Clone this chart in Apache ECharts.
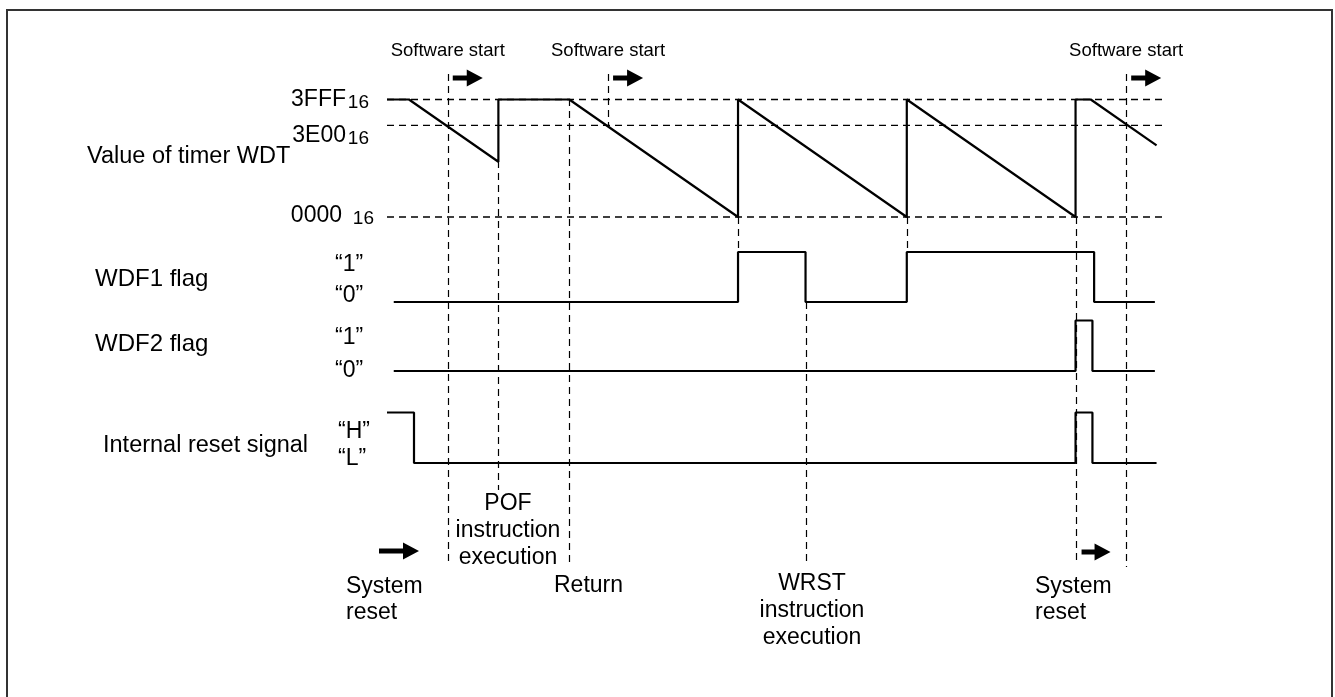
<!DOCTYPE html>
<html><head><meta charset="utf-8">
<script src="https://cdn.jsdelivr.net/npm/echarts@6/dist/echarts.min.js"></script>
<style>html,body{margin:0;padding:0;background:#fff}#c{width:1335px;height:697px}</style>
</head><body><div id="c"></div>
<script>
// ================= DATA =================
// time in arbitrary units (1 unit = 1 schematic count of the WDT drawing)
const timeRange = [-4, 457];
// schematic timer levels of the drawing (3FFF16 = 100 ... 000016 = 0)
const timerTickValues = [100, 78, 0];
const timerTickLabels = ['3FFF', '3E00', '0000'];
const timerTickSubs = ['16', '16', '16'];
const timerWave = [[-4,100],[9,100],[62,47],[62,100],[104,100],[204,0],[204,100],[304,0],[304,100],[404,0],[404,100],[413,100],[452,61]];
const wdf1Wave = [[0,0],[204,0],[204,1],[244,1],[244,0],[304,0],[304,1],[415,1],[415,0],[451,0]];
const wdf2Wave = [[0,0],[404,0],[404,1],[414,1],[414,0],[451,0]];
const resetWave = [[-4,1],[12,1],[12,0],[404,0],[404,1],[414,1],[414,0],[452,0]];
const signalNames = ['Value of timer WDT', 'WDF1 flag', 'WDF2 flag', 'Internal reset signal'];
const flagLevelLabels = ['“1”', '“0”'];
const resetLevelLabels = ['“H”', '“L”'];
const softwareStartTimes = [32, 127, 434];
const softwareStartLabel = 'Software start';
const guideTimes = [32, 62, 104, 127, 204, 244, 304, 404, 434];
const eventLabels = ['System\nreset', 'POF\ninstruction\nexecution', 'Return', 'WRST\ninstruction\nexecution', 'System\nreset'];
const systemResetTimes = [12, 404];

// ================= LAYOUT / STYLE =================
const FONT = "'Liberation Sans', Arial, sans-serif";
const X0 = 387, XW = 778;
const lanes = [
  {top: 99.5, height: 117.5, min: 0, max: 100},
  {top: 252, height: 50, min: 0, max: 1},
  {top: 320.5, height: 50.5, min: 0, max: 1},
  {top: 412.5, height: 50.5, min: 0, max: 1}
];
const guideSpans = [[74,563],[161,490],[99,567],[74,125],[217,252],[302,562],[217,252],[217,562],[74,567]];
const dash = [7, 5];

const chart = echarts.init(document.getElementById('c'), null, {renderer: 'canvas'});

const grids = lanes.map(l => ({left: X0, width: XW, top: l.top, height: l.height}));
const xAxes = lanes.map((l, i) => ({type: 'value', gridIndex: i, min: timeRange[0], max: timeRange[1], show: false}));
const yAxes = lanes.map((l, i) => ({type: 'value', gridIndex: i, min: l.min, max: l.max, show: false}));

const series = [];
timerTickValues.forEach(v => series.push({
  type: 'line', xAxisIndex: 0, yAxisIndex: 0, symbol: 'none', silent: true, clip: false,
  data: [[timeRange[0], v], [timeRange[1] - 1, v]],
  lineStyle: {color: '#000', width: 1.3, type: dash}
}));
[timerWave, wdf1Wave, wdf2Wave, resetWave].forEach((w, i) => series.push({
  type: 'line', xAxisIndex: i, yAxisIndex: i, symbol: 'none', silent: true, clip: false,
  data: w, lineStyle: {color: '#000', width: 2.2}
}));

chart.setOption({
  backgroundColor: '#fff', animation: false,
  grid: grids, xAxis: xAxes, yAxis: yAxes, series: series
});

const px = t => chart.convertToPixel({xAxisIndex: 0}, t);
const py = (lane, v) => chart.convertToPixel({yAxisIndex: lane}, v);

const g = [];
// frame (open at the bottom edge of the picture)
g.push({type: 'rect', shape: {x: 7, y: 10, width: 1325, height: 700}, style: {fill: 'none', stroke: '#333', lineWidth: 2}, silent: true});
// vertical guides
guideTimes.forEach((t, i) => {
  const x = Math.round(px(t)) + 0.5;
  g.push({type: 'line', shape: {x1: x, y1: guideSpans[i][0], x2: x, y2: guideSpans[i][1]},
    style: {stroke: '#000', lineWidth: 1.2, lineDash: dash}, silent: true});
});
function text(str, x, y, size, align, lh) {
  g.push({type: 'text', x: x, y: y, silent: true,
    style: {text: str, fill: '#000', font: size + 'px ' + FONT, textAlign: align || 'left', textVerticalAlign: 'middle', lineHeight: lh || size * 1.15}});
}
function textTop(str, x, y, size, align, lh) {
  g.push({type: 'text', x: x, y: y, silent: true,
    style: {text: str, fill: '#000', font: size + 'px ' + FONT, textAlign: align || 'left', textVerticalAlign: 'top', lineHeight: lh}});
}
function arrow(x0, yc, len) {
  const h = 16;
  g.push({type: 'polygon', silent: true, shape: {points: [
    [x0, yc - 2.5], [x0 + len - h, yc - 2.5], [x0 + len - h, yc - 8.5], [x0 + len, yc],
    [x0 + len - h, yc + 8.5], [x0 + len - h, yc + 2.5], [x0, yc + 2.5]]}, style: {fill: '#000'}});
}
// timer tick labels
const tickOffsets = [0, 10, -1];
const subGap = [2, 2, 11];
timerTickValues.forEach((v, i) => {
  const y = py(0, v) + tickOffsets[i];
  const subRight = 369 + (i === 2 ? 5 : 0);
  text(timerTickSubs[i], subRight, y + 3, 19, 'right');
  text(timerTickLabels[i], subRight - 21 - subGap[i], y, 23, 'right');
});
// signal names
text(signalNames[0], 87, 157, 23.5);
text(signalNames[1], 95, 279, 24);
text(signalNames[2], 95, 344, 24);
text(signalNames[3], 103, 446, 23.5);
// level labels
text(flagLevelLabels[0], 335, 265, 23); text(flagLevelLabels[1], 335, 296, 23);
text(flagLevelLabels[0], 335, 338, 23); text(flagLevelLabels[1], 335, 371, 23);
text(resetLevelLabels[0], 338, 432, 23); text(resetLevelLabels[1], 338, 459, 23);
// software start labels + arrows
softwareStartTimes.forEach(t => {
  const x = px(t);
  text(softwareStartLabel, x, 51, 18.5, 'center');
  arrow(x + 5, 78, 30);
});
// bottom event labels
textTop(eventLabels[0], 346, 574, 23, 'left', 26);
textTop(eventLabels[1], 508, 490, 23, 'center', 27);
textTop(eventLabels[2], 554, 573, 23, 'left', 26);
textTop(eventLabels[3], 812, 570, 23, 'center', 27);
textTop(eventLabels[4], 1035, 574, 23, 'left', 26);
// system reset arrows
arrow(px(systemResetTimes[0]) + 5 - 40, 551, 40);
arrow(px(systemResetTimes[1]) + 6, 552, 29);

chart.setOption({graphic: g});
</script></body></html>
